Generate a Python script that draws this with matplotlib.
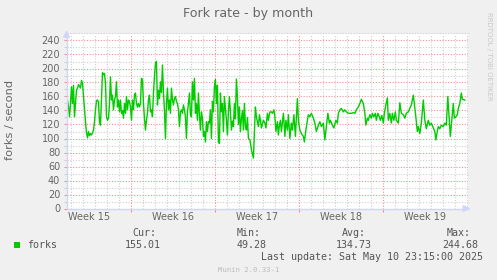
import numpy as np
import matplotlib
matplotlib.use("Agg")
import matplotlib.pyplot as plt
from matplotlib.patches import Rectangle

# ---------------- data ----------------
# hours since the left edge of the graph; samples every 2 h in segments A and B
vals_a = [160,155,145,131,150,174,150,176,131,150,
          169,172,177,175,172,183,179,160,141,124,
          108,101,110,104,107,105,108,112,124,141,
          154,155,152,124,119,155,194,191,193,179,
          131,126,129,150,188,155,162,141,155,160,
          181,145,155,138,155,136,140,129,150,136,
          160,141,155,153,145,126,155,141,162,165,
          150,145,150,145,150,186,184,150,129,112,
          126,136,155]
hours_a = np.arange(0, 2 * len(vals_a), 2)

vals_b = [162,138,141,131,165,188,207,210,148,169,
          157,181,166,205,166,141,100,150,172,141,
          155,136,172,155,148,157,160,153,150,141,
          117,138,141,136,148,141,131,100,138,150,
          165,134,131,181,155,186,136,150,126,165,
          134,112,138,129,103,110,95,124,110,124,
          122,141,100,153,138,174,184,150,176,95,
          93,165,138,150,110,160,143,126,105,138,160]
hours_b = np.arange(166, 166 + 2 * len(vals_b), 2)

hours_c = [328,330,332,334,336,338,340,342,344,346,348,350,352,354,356,358,360,362,364]
vals_c = [138,112,125,117,150,128,185,160,120,145,110,128,140,112,150,118,112,130,100]

hours_d = [367,370,374,376,378,380,384,386,388,390,394,397,399,402,404,407,410,412,415,417,
           419,422,424,426,428,430,434,437,439,442,444,447,450,452,455,458,460,462,464,467,
           470,474,476,479,482,484,487,490,494,497,500,504,507,510,514,517,520,523,526,528,
           532,535,539,542,544,547,550,554,557,560,564,567,570,574,577,580,584,587,590,594,
           597,599,602,604,607,610,612,615,618,620,623,626,628,631,634,636,639,642,644,647,
           650,652,655,658,660,664,667,670,674,677,680,684,687,690,694,696,699,702,704,707,
           710,714,717,720,724,727,730,734,737,739,742,744,747,750,754,757,760,763,766,768,
           771,774,776,779,782,784,787,790,792,797]
vals_d = [98,84,72,107,145,131,117,134,126,115,126,122,115,136,126,138,138,136,141,131,
          110,124,105,119,126,110,136,103,126,112,134,100,122,112,134,103,131,157,126,112,
          107,103,95,112,126,134,131,136,129,122,110,119,124,117,122,98,117,136,122,126,
          119,115,126,122,136,141,143,138,141,138,136,136,136,137,136,141,145,150,156,150,
          136,119,129,126,134,129,136,131,136,126,136,131,126,133,122,136,148,158,126,136,
          122,136,126,138,126,122,151,136,134,129,136,138,143,148,162,150,131,110,117,107,
          122,155,126,114,126,119,122,115,110,98,110,117,114,119,117,122,119,160,126,103,
          126,150,129,131,134,143,150,165,156,155]

week_labels = ["Week 15", "Week 16", "Week 17", "Week 18", "Week 19"]
week_starts = [129, 297, 465, 633]          # hours
week_label_pos = [45, 213, 381, 549, 717]   # hours (mid-week)
x_max = 804
y_max = 250
y_ticks = list(range(0, 241, 20))

series_name = "forks"
legend_heads = ["Cur:", "Min:", "Avg:", "Max:"]
legend_vals = ["155.01", "49.28", "134.73", "244.68"]

hours = np.concatenate([hours_a, hours_b, hours_c, hours_d])
vals = np.concatenate([vals_a, vals_b, vals_c, vals_d])

# ---------------- style ----------------
BACK = "#F0F0F0"
FONT = "#666666"
AXIS = "#CFD6F8"
GRID = "#CFCFCF"
MGRID = "#F09090"
LINE = "#00CC00"

W, H = 497, 280
fig = plt.figure(figsize=(W / 100, H / 100), dpi=100, facecolor=BACK)
L, R, T, B = 66.5, 468.3, 33.5, 208.5
ax = fig.add_axes([L / W, 1 - B / H, (R - L) / W, (B - T) / H], facecolor="white")
ax.set_xlim(0, x_max)
ax.set_ylim(0, y_max)

dot = (0, (1, 1.5))
# minor grid
for yv in range(10, y_max + 1, 10):
    if yv % 20:
        ax.axhline(yv, color=GRID, lw=0.8, ls=dot, clip_on=False, zorder=1)
day_lines = np.arange(week_starts[0] % 24, x_max, 24)
for xv in day_lines:
    if xv not in week_starts:
        ax.axvline(xv, color=GRID, lw=0.8, ls=dot, zorder=1)
# major grid
for yv in y_ticks[1:]:
    ax.axhline(yv, color=MGRID, lw=0.8, ls=dot, zorder=1)
for xv in week_starts:
    ax.axvline(xv, color=MGRID, lw=0.8, ls=dot, zorder=1)

ax.plot(hours, vals, color=LINE, lw=1.0, zorder=3, solid_joinstyle="round")

# spines / axes
for s in ("top", "right"):
    ax.spines[s].set_visible(False)
for s in ("left", "bottom"):
    ax.spines[s].set_color(AXIS)
    ax.spines[s].set_linewidth(1)
    ax.spines[s].set_zorder(4)

ax.annotate("", xy=(1.012, 0), xytext=(0.99, 0), xycoords="axes fraction",
            arrowprops=dict(arrowstyle="-|>,head_length=0.4,head_width=0.2", color=AXIS, lw=1))
ax.annotate("", xy=(0, 1.035), xytext=(0, 0.98), xycoords="axes fraction",
            arrowprops=dict(arrowstyle="-|>,head_length=0.4,head_width=0.2", color=AXIS, lw=1))

ax.set_yticks(y_ticks)
ax.set_yticklabels([str(v) for v in y_ticks])
ax.set_yticks(range(10, y_max, 20), minor=True)
ax.tick_params(axis="y", which="major", length=2, width=0.8, color=MGRID, pad=2.5,
               labelsize=7, labelcolor=FONT)
ax.tick_params(axis="y", which="minor", length=2, width=0.8, color=GRID)

ax.set_xticks(week_label_pos)
ax.set_xticklabels(week_labels)
ax.set_xticks(week_starts, minor=True)
ax.tick_params(axis="x", which="major", length=0, pad=2.5, labelsize=7, labelcolor=FONT)
ax.tick_params(axis="x", which="minor", length=2, width=0.8, color=MGRID)

# texts
def fx(px):
    return px / W

def fy(py):
    return 1 - py / H

fig.text(fx(248.5), fy(14), "Fork rate - by month", ha="center", va="center",
         fontsize=9.1, color=FONT, family="DejaVu Sans")
fig.text(fx(10), fy(120), "forks / second", ha="center", va="center", rotation=90,
         fontsize=8.2, color=FONT, family="DejaVu Sans")
fig.text(fx(488.5), fy(56.5), "RRDTOOL / TOBI OETIKER", ha="center", va="center",
         rotation=270, fontsize=5.0, color="#C8C8C8", family="DejaVu Sans")

mono = "DejaVu Sans Mono"
fs = 7.2
fig.patches.append(Rectangle((fx(14), fy(247.5)), 6 / W, 6 / H, transform=fig.transFigure,
                             facecolor=LINE, edgecolor=LINE, lw=0))
fig.text(fx(27), fy(245), series_name, ha="left", va="center", fontsize=fs, color="#555555", family=mono)
head_x = [132, 237, 342, 447]
val_x = [125, 237, 336, 442]
for hx, vx, hd, v in zip(head_x, val_x, legend_heads, legend_vals):
    fig.text(fx(hx), fy(233.5), hd, ha="left", va="center", fontsize=fs, color="#555555", family=mono)
    fig.text(fx(vx), fy(245.5), v, ha="left", va="center", fontsize=fs, color="#555555", family=mono)
fig.text(fx(261), fy(257.5), "Last update: Sat May 10 23:15:00 2025", ha="left", va="center",
         fontsize=fs, color="#555555", family=mono)
fig.text(fx(249), fy(269.5), "Munin 2.0.33-1", ha="center", va="center",
         fontsize=5.2, color="#BBBBBB", family=mono)

fig.savefig("out.png", dpi=100, facecolor=BACK)
